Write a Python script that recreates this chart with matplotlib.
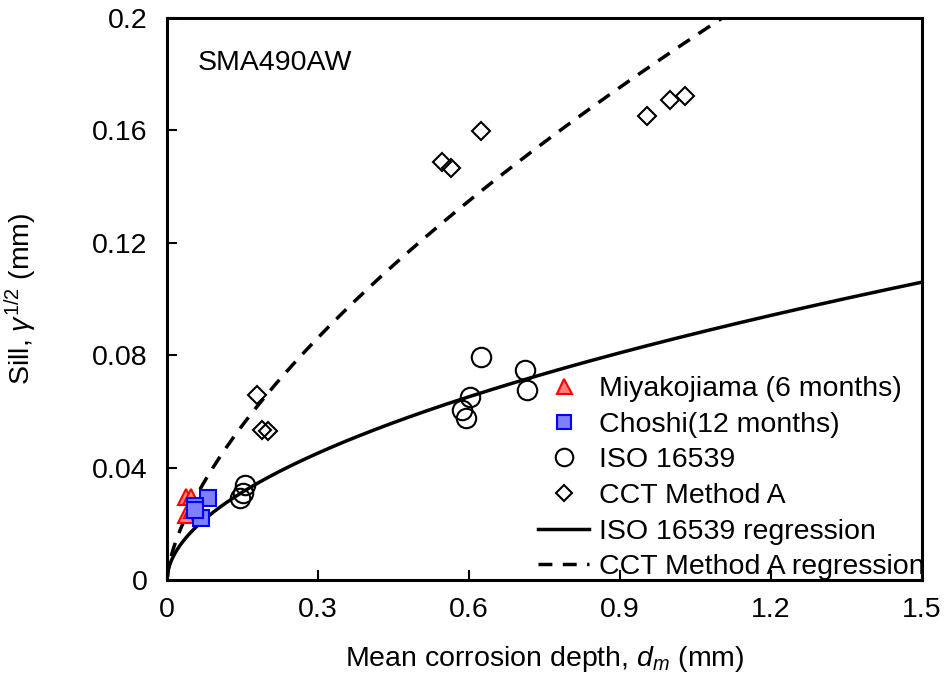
import numpy as np
import matplotlib
matplotlib.use("Agg")
import matplotlib.pyplot as plt

plt.rcParams["font.family"] = ["Liberation Sans", "DejaVu Sans"]
plt.rcParams["mathtext.fontset"] = "custom"
plt.rcParams["mathtext.rm"] = "Liberation Sans"
plt.rcParams["mathtext.it"] = "Liberation Sans:italic"

# data
miyako_x = [0.037, 0.048, 0.037, 0.050]
miyako_y = [0.0297, 0.0297, 0.0233, 0.0250]
choshi_x = [0.081, 0.056, 0.068, 0.055]
choshi_y = [0.0292, 0.0263, 0.0221, 0.0250]
iso_x = [0.145, 0.151, 0.155, 0.586, 0.594, 0.602, 0.624, 0.711, 0.715]
iso_y = [0.0292, 0.0310, 0.0338, 0.0605, 0.0577, 0.0651, 0.0794, 0.0747, 0.0676]
cct_x = [0.179, 0.189, 0.201, 0.546, 0.564, 0.624, 0.954, 0.999, 1.029]
cct_y = [0.0658, 0.0534, 0.0530, 0.1488, 0.1466, 0.1598, 0.1650, 0.1708, 0.1722]

# regression y = a * x^b
iso_a, iso_b = 0.0855, 0.53
cct_a, cct_b = 0.1877, 0.646

fs = 20.5

fig = plt.figure(figsize=(9.48, 6.74), dpi=100)
ax = fig.add_axes([167 / 948, 1 - 580 / 674, 755 / 948, 562 / 674])

xx = np.linspace(0, 1.5, 600)
ax.plot(miyako_x, miyako_y, "^", ms=12, mfc="#ff8080", mec="red", mew=1.5,
        label="Miyakojiama (6 months)", zorder=5)
ax.plot(choshi_x, choshi_y, "s", ms=11, mfc="#8080ff", mec="blue", mew=1.5,
        label="Choshi(12 months)", zorder=6)
ax.plot(iso_x, iso_y, "o", ms=14, mfc="none", mec="black", mew=1.5,
        label="ISO 16539", zorder=4)
ax.plot(cct_x, cct_y, "D", ms=9, mfc="none", mec="black", mew=1.5,
        label="CCT Method A", zorder=4)
ax.plot(xx, iso_a * xx ** iso_b, "-", color="black", lw=2.5,
        label="ISO 16539 regression")
ax.plot(xx, cct_a * xx ** cct_b, "--", color="black", lw=2.5, dashes=(4, 3),
        label="CCT Method A regression")

ax.set_xlim(0, 1.5)
ax.set_ylim(0, 0.2)
ax.set_xticks([0, 0.3, 0.6, 0.9, 1.2, 1.5])
ax.set_xticklabels(["0", "0.3", "0.6", "0.9", "1.2", "1.5"])
ax.set_yticks([0, 0.04, 0.08, 0.12, 0.16, 0.2])
ax.set_yticklabels(["0", "0.04", "0.08", "0.12", "0.16", "0.2"])
ax.tick_params(direction="in", length=7, width=1.5, labelsize=fs)
ax.tick_params(axis="x", pad=12)
ax.tick_params(axis="y", pad=14)
for s in ax.spines.values():
    s.set_linewidth(2.2)

ax.set_xlabel("Mean corrosion depth, $d_m$ (mm)", fontsize=fs, labelpad=15)
ax.set_ylabel("Sill, $\\gamma^{1/2}$ (mm)", fontsize=fs, labelpad=38)
ax.text(0.04, 0.92, "SMA490AW", transform=ax.transAxes, fontsize=fs,
        va="center", ha="left")

ax.legend(loc="upper left", bbox_to_anchor=((538 - 167) / 755, (580 - 376) / 562),
          frameon=False, fontsize=fs, borderpad=0, labelspacing=0.34,
          handlelength=1.8, handletextpad=0.35, borderaxespad=0,
          markerscale=0.9)

fig.savefig("out.png", dpi=100)
